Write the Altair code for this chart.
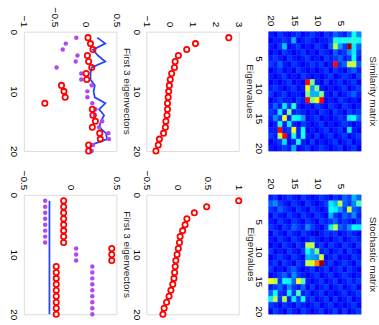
import altair as alt
import pandas as pd

# ---------------- data ----------------
idx = list(range(1, 21))

# Similarity matrix panel (top row)
sim_vec_red = [0.04, 0.08, 0.12, 0.03, 0.05, 0.10, 0.01, 0.02, -0.39, -0.35,
               -0.33, -0.66, 0.11, 0.12, 0.16, 0.11, 0.23, 0.24, 0.05, 0.05]
sim_vec_purple = [-0.15, -0.32, -0.37, -0.13, -0.16, -0.47, -0.07, -0.07, 0.10, 0.03,
                  0.03, 0.11, 0.16, 0.15, 0.27, 0.22, 0.37, 0.38, 0.12, 0.10]
sim_vec_blue = [0.19, 0.32, 0.12, 0.20, 0.32, 0.10, 0.08, 0.08, 0.15, 0.13,
                0.15, 0.32, 0.22, 0.30, 0.25, 0.22, 0.33, 0.35, 0.08, 0.08]
sim_vals = [2.57, 1.13, 0.75, 0.39, 0.25, 0.22, 0.10, 0.04, 0.00, -0.03,
            -0.05, -0.08, -0.08, -0.10, -0.15, -0.17, -0.25, -0.43, -0.48, -0.58]

# Stochastic matrix panel (bottom row)
sto_vec_red = [-0.07, -0.07, -0.07, -0.07, -0.07, -0.07, -0.07, -0.07, 0.45, 0.45,
               0.45, -0.15, -0.15, -0.15, -0.15, -0.15, -0.15, -0.15, -0.15, -0.15]
sto_vec_purple = [-0.27, -0.27, -0.27, -0.27, -0.27, -0.27, -0.27, -0.27, 0.065, 0.065,
                  0.065, 0.24, 0.24, 0.24, 0.24, 0.24, 0.24, 0.24, 0.24, 0.24]
sto_vec_blue = [-0.2236] * 20
sto_vals = [1.00, 0.48, 0.28, 0.16, 0.13, 0.09, 0.05, 0.04, 0.02, 0.00,
            -0.02, -0.03, -0.04, -0.05, -0.07, -0.10, -0.13, -0.17, -0.21, -0.23]

# heat-map grids as displayed (rows top->bottom, columns left->right), values 0..100 (jet)
sim_grid = [
    [15, 12, 18, 15, 12, 15, 18, 12, 15, 18, 15, 12, 18, 15, 22, 18, 15, 22, 38, 26],
    [12, 15, 15, 18, 15, 30, 12, 15, 18, 15, 12, 15, 15, 18, 40, 38, 40, 38, 42, 38],
    [15, 12, 18, 32, 12, 15, 18, 12, 15, 12, 18, 15, 12, 22, 56, 28, 18, 97, 36, 22],
    [12, 15, 12, 18, 15, 12, 15, 18, 12, 15, 12, 18, 15, 12, 22, 15, 18, 26, 36, 18],
    [15, 18, 15, 12, 18, 15, 12, 15, 18, 12, 15, 12, 18, 15, 18, 22, 15, 18, 38, 15],
    [18, 15, 22, 15, 12, 18, 15, 12, 15, 18, 15, 18, 12, 15, 87, 18, 22, 56, 58, 22],
    [12, 15, 18, 12, 15, 12, 18, 15, 12, 15, 12, 15, 18, 12, 18, 15, 12, 18, 22, 15],
    [15, 12, 15, 18, 12, 15, 12, 18, 15, 12, 15, 12, 15, 18, 12, 15, 18, 15, 12, 18],
    [12, 15, 12, 15, 18, 12, 15, 12, 87, 50, 15, 12, 18, 12, 15, 18, 12, 15, 18, 12],
    [15, 18, 15, 12, 15, 18, 12, 15, 62, 28, 50, 15, 12, 15, 12, 15, 18, 12, 15, 18],
    [18, 12, 15, 18, 12, 15, 15, 12, 50, 30, 30, 50, 15, 12, 18, 12, 15, 18, 22, 15],
    [12, 15, 18, 15, 15, 12, 18, 15, 87, 50, 62, 87, 12, 15, 12, 18, 15, 12, 15, 12],
    [15, 22, 15, 36, 18, 42, 15, 12, 15, 12, 18, 15, 12, 18, 15, 12, 18, 15, 12, 15],
    [18, 15, 36, 15, 50, 15, 18, 15, 12, 15, 12, 18, 15, 12, 18, 15, 12, 18, 15, 18],
    [15, 26, 18, 62, 15, 38, 36, 28, 12, 15, 18, 12, 15, 12, 15, 18, 15, 36, 38, 22],
    [12, 15, 40, 15, 36, 15, 12, 18, 15, 12, 15, 18, 12, 15, 12, 15, 18, 15, 12, 15],
    [15, 15, 87, 15, 18, 62, 15, 38, 12, 15, 12, 15, 18, 12, 15, 18, 12, 36, 15, 12],
    [18, 15, 56, 87, 15, 40, 15, 40, 15, 12, 18, 12, 15, 18, 12, 15, 18, 12, 15, 18],
    [12, 15, 18, 35, 12, 15, 38, 15, 12, 18, 12, 15, 12, 15, 18, 12, 15, 18, 12, 15],
    [15, 12, 15, 18, 15, 30, 12, 15, 18, 12, 15, 18, 15, 12, 15, 18, 12, 15, 18, 12],
]
sto_grid = [
    [15, 18, 12, 15, 18, 15, 12, 18, 15, 12, 15, 18, 15, 12, 18, 15, 22, 18, 30, 22],
    [22, 26, 18, 15, 12, 18, 15, 12, 18, 15, 12, 15, 18, 36, 30, 56, 22, 18, 26, 45],
    [18, 15, 22, 18, 15, 12, 18, 15, 12, 18, 15, 12, 15, 38, 36, 28, 18, 58, 22, 18],
    [12, 18, 15, 12, 18, 15, 12, 18, 15, 12, 18, 15, 12, 30, 18, 15, 22, 18, 26, 15],
    [15, 12, 18, 15, 12, 18, 15, 12, 18, 15, 12, 18, 15, 18, 22, 15, 18, 15, 12, 18],
    [18, 15, 12, 18, 15, 22, 18, 15, 26, 18, 15, 12, 18, 36, 56, 22, 18, 26, 38, 36],
    [12, 18, 15, 12, 18, 15, 12, 18, 15, 12, 8, 15, 18, 15, 18, 12, 15, 18, 15, 12],
    [15, 12, 18, 15, 12, 18, 15, 12, 15, 18, 15, 12, 15, 12, 15, 18, 12, 15, 18, 15],
    [12, 15, 12, 18, 15, 12, 18, 15, 56, 56, 15, 18, 12, 18, 15, 12, 18, 15, 12, 18],
    [18, 12, 15, 12, 18, 15, 12, 18, 38, 28, 50, 15, 18, 12, 15, 18, 12, 18, 15, 12],
    [12, 15, 18, 15, 12, 18, 15, 12, 30, 28, 26, 58, 12, 15, 18, 12, 15, 12, 18, 15],
    [15, 18, 12, 18, 15, 12, 18, 15, 56, 58, 75, 97, 15, 18, 12, 15, 18, 15, 12, 18],
    [18, 12, 15, 12, 18, 22, 15, 12, 15, 18, 12, 15, 18, 12, 15, 18, 12, 18, 15, 12],
    [12, 15, 18, 22, 15, 26, 18, 15, 12, 15, 18, 12, 15, 18, 12, 15, 18, 15, 12, 15],
    [62, 56, 18, 38, 36, 22, 62, 45, 15, 12, 15, 18, 12, 15, 18, 12, 15, 18, 15, 18],
    [15, 18, 22, 15, 26, 18, 15, 22, 12, 18, 12, 15, 18, 12, 15, 18, 12, 15, 18, 12],
    [22, 38, 18, 15, 36, 18, 45, 15, 18, 12, 15, 18, 12, 15, 12, 15, 18, 12, 15, 18],
    [36, 56, 18, 56, 15, 36, 18, 38, 15, 18, 12, 15, 18, 12, 18, 12, 15, 18, 12, 15],
    [18, 15, 12, 18, 15, 12, 18, 15, 12, 15, 18, 12, 15, 18, 12, 15, 12, 15, 18, 12],
    [12, 18, 15, 12, 18, 15, 12, 18, 15, 12, 15, 18, 12, 15, 18, 12, 18, 12, 15, 18],
]

# ---------------- style ----------------
FONT = "Liberation Sans"
INK = "#262626"
RED = "#ff0000"
PURPLE = "#b048f0"
BLUE = "#2848f0"
JET_STOPS = [0, 12.5, 37.5, 62.5, 87.5, 100]
JET = ["#000080", "#0000ff", "#00ffff", "#ffff00", "#ff0000", "#800000"]
W, H = 93, 120


def val_axis(ticks):
    return alt.Axis(orient="top", values=ticks, format="~g", labelAngle=90,
                    labelAlign="right", labelBaseline="middle", tickSize=0,
                    domain=False, grid=False, title=None, labelPadding=5)


def idx_axis(ticks):
    return alt.Axis(orient="left", values=ticks, format="~g", labelAngle=90,
                    labelAlign="center", labelBaseline="top", tickSize=0,
                    domain=False, grid=False, title=None, labelPadding=5)


def side_title(text, off):
    return alt.TitleParams(text, orient="right", anchor="middle", font=FONT,
                           fontSize=10, fontWeight="normal", color=INK, offset=off)


def vec_panel(red, purple, blue, dom, ticks, title):
    df = pd.DataFrame({"i": idx, "red": red, "purple": purple, "blue": blue})
    xs = alt.Scale(domain=dom, nice=False, zero=False)
    ys = alt.Scale(domain=[0, 20], reverse=True, nice=False, zero=False)
    xa, ya = val_axis(ticks), idx_axis([0, 10, 20])
    base = alt.Chart(df)
    line = base.mark_line(color=BLUE, strokeWidth=1.8).encode(
        x=alt.X("blue:Q", scale=xs, axis=xa), y=alt.Y("i:Q", scale=ys, axis=ya),
        order="i:Q")
    pur = base.mark_point(shape="circle", filled=True, size=20, color=PURPLE, opacity=1).encode(
        x=alt.X("purple:Q", scale=xs, axis=xa), y=alt.Y("i:Q", scale=ys, axis=ya))
    red_m = base.mark_point(shape="circle", filled=False, size=28, color=RED,
                            strokeWidth=1.8, opacity=1).encode(
        x=alt.X("red:Q", scale=xs, axis=xa), y=alt.Y("i:Q", scale=ys, axis=ya))
    return alt.layer(line, pur, red_m).properties(width=W, height=H,
                                                  title=side_title(title, 1))


def val_panel(vals, dom, ticks, title):
    df = pd.DataFrame({"i": idx, "v": vals})
    xs = alt.Scale(domain=dom, nice=False, zero=False)
    ys = alt.Scale(domain=[0, 20], reverse=True, nice=False, zero=False)
    return alt.Chart(df).mark_point(shape="circle", filled=False, size=28, color=RED,
                                    strokeWidth=1.8, opacity=1).encode(
        x=alt.X("v:Q", scale=xs, axis=val_axis(ticks)),
        y=alt.Y("i:Q", scale=ys, axis=idx_axis([0, 10, 20])),
    ).properties(width=W, height=H, title=side_title(title, 1))


def heat_panel(grid, title):
    recs = []
    for j, row in enumerate(grid):
        for k, v in enumerate(row):
            recs.append({"r": 20 - k, "c": j + 1, "v": v})
    df = pd.DataFrame(recs)
    cs = alt.Scale(domain=JET_STOPS, range=JET, interpolate="rgb")
    xs = alt.Scale(domain=[0.5, 20.5], reverse=True, nice=False, zero=False)
    ys = alt.Scale(domain=[0.5, 20.5], reverse=True, nice=False, zero=False)
    xa = alt.Axis(orient="top", values=[5, 10, 15, 20], labelAngle=90, labelAlign="right",
                  labelBaseline="middle", tickSize=0, domain=False, grid=False,
                  title=None, labelPadding=6)
    ya = alt.Axis(orient="left", values=[5, 10, 15, 20], labelAngle=90, labelAlign="center",
                  labelBaseline="top", tickSize=0, domain=False, grid=False,
                  title=None, labelPadding=5)
    return alt.Chart(df).transform_calculate(
        r0="datum.r - 0.5", r1="datum.r + 0.5", c0="datum.c - 0.5", c1="datum.c + 0.5"
    ).mark_rect(strokeWidth=0.4).encode(
        x=alt.X("r0:Q", scale=xs, axis=xa), x2="r1:Q",
        y=alt.Y("c0:Q", scale=ys, axis=ya), y2="c1:Q",
        color=alt.Color("v:Q", scale=cs, legend=None),
        stroke=alt.Stroke("v:Q", scale=cs, legend=None),
    ).properties(width=W, height=H, title=side_title(title, 7))


panels = [
    vec_panel(sim_vec_red, sim_vec_purple, sim_vec_blue, [-1, 0.5], [-1, -0.5, 0, 0.5],
              "First 3 eigenvectors"),
    val_panel(sim_vals, [-1, 3], [-1, 0, 1, 2, 3], "Eigenvalues"),
    heat_panel(sim_grid, "Similarity matrix"),
    vec_panel(sto_vec_red, sto_vec_purple, sto_vec_blue, [-0.5, 0.5], [-0.5, 0, 0.5],
              "First 3 eigenvectors"),
    val_panel(sto_vals, [-0.5, 1], [-0.5, 0, 0.5, 1], "Eigenvalues"),
    heat_panel(sto_grid, "Stochastic matrix"),
]

chart = alt.concat(*panels, columns=3, spacing={"row": 44, "column": 30},
                   bounds="flush").properties(
    padding={"left": 8, "top": 5, "right": 0, "bottom": 0}
).configure_view(stroke=INK, strokeWidth=1).configure_axis(
    labelFont=FONT, labelFontSize=10, labelColor=INK
).configure(background="white")

chart.save("out.html", embed_options={"renderer": "svg", "actions": False})
